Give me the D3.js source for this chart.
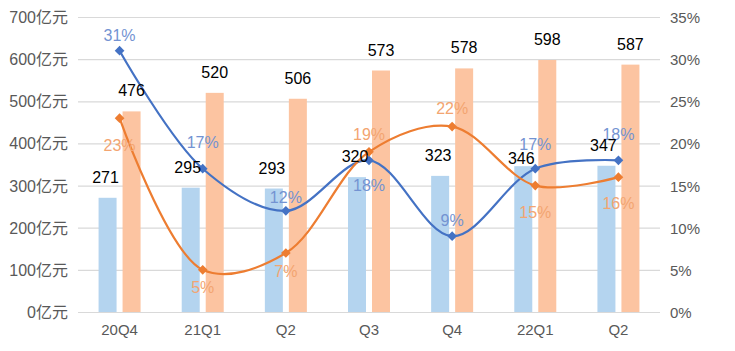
<!DOCTYPE html>
<html>
<head>
<meta charset="utf-8">
<script src="https://cdn.jsdelivr.net/npm/d3@7"></script>
<style>
  body { margin: 0; background: white; }
  svg { display: block; }
</style>
</head>
<body>
<script>
// 数据
const quarters = ["20Q4", "21Q1", "Q2", "Q3", "Q4", "22Q1", "Q2 "]
const blueBars = [271, 295, 293, 320, 323, 346, 347]
const orangeBars = [476, 520, 506, 573, 578, 598, 587]
const bluePct = [31, 17, 12, 18, 9, 17, 18]
const orangePct = [23, 5, 7, 19, 22, 15, 16]
const leftTicks = [0, 100, 200, 300, 400, 500, 600, 700]
const rightTicks = [0, 5, 10, 15, 20, 25, 30, 35]

// label offsets (px), layout only
const blueLabelDy = [-16, -27, -14, 25, -16, -25, -26]
const orangeLabelDy = [27, 17, 18, -18, -19, 26, 26]
const blueValueDy = [0, 0, 0, 0, 0, 13, 0]
const blueValueDx = [-2, -3, -2, -2, -2, -2, -3]

const c = {
    grid:     "#d9d9d9",
    axisText: "#595959",
    blueBar:  "#b4d4ef",
    orgBar:   "#fcc4a1",
    blue:     "#4472c4",
    orange:   "#ed7d31",
    blueTxt:  "#7393d2",
    orgTxt:   "#f3a571",
}

const W = 735, H = 351
const m = {left: 78, right: 660, top: 17, bottom: 312}

const svg = d3.select("body").append("svg")
    .attr("width", W)
    .attr("height", H)

const x0 = d3.scaleBand()
    .domain(quarters)
    .range([m.left, m.right])
    .padding(0)

const x1 = d3.scaleBand()
    .domain(["a", "b"])
    .range([0, x0.bandwidth()])
    .paddingInner(0.25)
    .paddingOuter(0.857)

const yL = d3.scaleLinear().domain([0, 700]).range([m.bottom, m.top])
const yR = d3.scaleLinear().domain([0, 35]).range([m.bottom, m.top])

// grid
svg.append("g")
    .selectAll("line")
    .data(leftTicks)
    .join("line")
        .attr("x1", m.left)
        .attr("x2", m.right)
        .attr("y1", d => yL(d) + 0.5)
        .attr("y2", d => yL(d) + 0.5)
        .attr("stroke", c.grid)
        .attr("stroke-width", 1.2)

// left axis labels
svg.append("g")
    .attr("font-family", "'Liberation Sans', 'Noto Sans CJK SC', sans-serif")
    .attr("font-size", 16)
    .attr("fill", c.axisText)
    .attr("text-anchor", "end")
    .selectAll("text")
    .data(leftTicks)
    .join("text")
        .attr("x", 68)
        .attr("y", d => yL(d) + 6)
        .text(d => d + "亿元")

// right axis labels
svg.append("g")
    .attr("font-family", "'Liberation Sans', sans-serif")
    .attr("font-size", 15)
    .attr("fill", c.axisText)
    .selectAll("text")
    .data(rightTicks)
    .join("text")
        .attr("x", 670)
        .attr("y", d => yR(d) + 6)
        .text(d => d + "%")

// category labels
svg.append("g")
    .attr("font-family", "'Liberation Sans', sans-serif")
    .attr("font-size", 15)
    .attr("fill", c.axisText)
    .attr("text-anchor", "middle")
    .selectAll("text")
    .data(quarters)
    .join("text")
        .attr("x", d => x0(d) + x0.bandwidth() / 2)
        .attr("y", 335)
        .text(d => d.trim())

// bars
const bars = quarters.map((q, i) => ({q, i, a: blueBars[i], b: orangeBars[i]}))
const grp = svg.append("g")
    .selectAll("g")
    .data(bars)
    .join("g")
        .attr("transform", d => `translate(${x0(d.q)},0)`)

grp.append("rect")
    .attr("x", x1("a"))
    .attr("width", x1.bandwidth())
    .attr("y", d => yL(d.a))
    .attr("height", d => yL(0) - yL(d.a))
    .attr("fill", c.blueBar)

grp.append("rect")
    .attr("x", x1("b"))
    .attr("width", x1.bandwidth())
    .attr("y", d => yL(d.b))
    .attr("height", d => yL(0) - yL(d.b))
    .attr("fill", c.orgBar)

// lines
const cx = q => x0(q) + x0.bandwidth() / 2
const line = d3.line()
    .x((d, i) => cx(quarters[i]))
    .y(d => yR(d))
    .curve(d3.curveCatmullRom.alpha(0.5))

function drawSeries(vals, color) {
    svg.append("path")
        .datum(vals)
        .attr("fill", "none")
        .attr("stroke", color)
        .attr("stroke-width", 2.2)
        .attr("d", line)
    svg.append("g")
        .selectAll("path")
        .data(vals)
        .join("path")
            .attr("d", d3.symbol(d3.symbolDiamond2, 60))
            .attr("transform", (d, i) => `translate(${cx(quarters[i])},${yR(d)})`)
            .attr("fill", color)
}
drawSeries(bluePct, c.blue)
drawSeries(orangePct, c.orange)

// percentage labels
function pctLabels(vals, dys, color) {
    svg.append("g")
        .attr("font-family", "'Liberation Sans Narrow', 'Liberation Sans', sans-serif")
        .attr("font-size", 16)
        .attr("fill", color)
        .attr("text-anchor", "middle")
        .selectAll("text")
        .data(vals)
        .join("text")
            .attr("x", (d, i) => cx(quarters[i]))
            .attr("y", (d, i) => yR(d) + dys[i] + 6)
            .text(d => d + "%")
}
pctLabels(bluePct, blueLabelDy, c.blueTxt)
pctLabels(orangePct, orangeLabelDy, c.orgTxt)

// value labels
const vl = svg.append("g")
    .attr("font-family", "'Liberation Sans', sans-serif")
    .attr("font-size", 16)
    .attr("fill", "#000")
    .attr("text-anchor", "middle")

vl.selectAll("text.a")
    .data(bars)
    .join("text")
        .attr("class", "a")
        .attr("x", d => x0(d.q) + x1("a") + x1.bandwidth() / 2 + blueValueDx[d.i])
        .attr("y", d => yL(d.a) - 15 + blueValueDy[d.i])
        .text(d => d.a)

vl.selectAll("text.b")
    .data(bars)
    .join("text")
        .attr("class", "b")
        .attr("x", d => x0(d.q) + x1("b") + x1.bandwidth() / 2)
        .attr("y", d => yL(d.b) - 15)
        .text(d => d.b)
</script>
</body>
</html>
